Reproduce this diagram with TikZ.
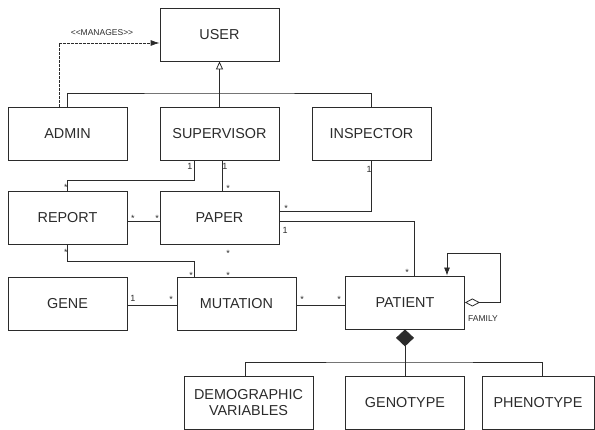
\documentclass[tikz,border=0pt]{standalone}
\usepackage{fontspec}
\setmainfont{Liberation Sans}
\usetikzlibrary{arrows.meta}
\definecolor{ink}{HTML}{2B2B2B}
\begin{document}
\begin{tikzpicture}[x=1pt,y=-1pt,
  cls/.style={draw=ink,line width=0.8pt,minimum width=119pt,minimum height=53pt,inner sep=1pt,font=\fontsize{14.4}{16.5}\selectfont,text=ink,align=center},
  conn/.style={draw=ink,line width=0.8pt},
  mult/.style={font=\fontsize{9}{10}\selectfont,text=ink,inner sep=0pt},
  lbl/.style={font=\fontsize{8.5}{10}\selectfont,text=ink,inner sep=0pt}]
\useasboundingbox (0,0) rectangle (595,430);
% classes
\node[cls] (user) at (219.5,34.5) {USER};
\node[cls] (admin) at (67.5,134) {ADMIN};
\node[cls] (sup) at (219.5,134) {SUPERVISOR};
\node[cls] (insp) at (371.5,134) {INSPECTOR};
\node[cls] (report) at (67.5,218) {REPORT};
\node[cls] (paper) at (219.5,218) {PAPER};
\node[cls] (gene) at (67.5,304) {GENE};
\node[cls] (mut) at (236.5,304) {MUTATION};
\node[cls] (pat) at (405,302.5) {PATIENT};
\node[cls,minimum width=129pt] (demo) at (248.5,402.5) {DEMOGRAPHIC\\VARIABLES};
\node[cls] (geno) at (405,402.5) {GENOTYPE};
\node[cls,minimum width=112pt] (pheno) at (538,402.5) {PHENOTYPE};
% generalization
\coordinate (gbar) at (219.5,93);
\draw[conn] (admin.north) |- (gbar) -| (insp.north);
\draw[conn,-{Triangle[open,length=8pt,width=7pt]}] (sup.north) -- (user.south);
% manages
\draw[conn,dashed,dash pattern=on 3pt off 1pt,-{Latex[length=9pt,width=6pt]}] ([xshift=-8.5pt]admin.north) |- ([yshift=-8.5pt]user.west);
\node[lbl] (manages) at (102,33) {<{}<MANAGES>{}>};
% associations
\draw[conn] ([xshift=-25.5pt]sup.south) -- ++(0,20) -| (report.north);
\draw[conn] ([xshift=2.5pt]sup.south) -- ([xshift=2.5pt]paper.north);
\draw[conn] (insp.south) |- ([yshift=7pt]paper.east);
\draw[conn] ([yshift=-3pt]paper.east) -| ([xshift=9pt]pat.north);
\draw[conn] ([yshift=-3pt]report.east) -- ([yshift=-3pt]paper.west);
\draw[conn] ([xshift=2.5pt]paper.south) -- (paper.south -| mut.north) ;
\draw[conn] (report.south) -- ++(0,17) -| ([xshift=-42.5pt]mut.north);
\draw[conn] ([yshift=-1pt]gene.east) -- ([yshift=-1pt]mut.west);
\draw[conn] ([yshift=-1pt]mut.east) -- ([yshift=-1pt]mut.east -| pat.west);
% self association
\draw[conn,{Diamond[open,length=15pt,width=8pt]}-{Latex[length=8pt,width=6pt]}] (pat.east) -- ++(35,0) -- ++(0,-49.5) -| ([xshift=42pt]pat.north);
\node[lbl,anchor=west] (fam) at (468,319) {FAMILY};
% composition
\draw[conn,{Diamond[length=17pt,width=18pt]}-] (pat.south) -- (geno.north);
\coordinate (cbar) at (405,362);
\draw[conn] ([xshift=-3.5pt]demo.north) |- (cbar) -| ([xshift=4pt]pheno.north);
% multiplicities
\node[mult] (m1) at (190,166) {1};
\node[mult] (m2) at (66,187) {*};
\node[mult] (m3) at (225,166) {1};
\node[mult] (m4) at (228,188) {*};
\node[mult] (m5) at (369,169) {1};
\node[mult] (m6) at (286,208) {*};
\node[mult] (m7) at (285,230) {1};
\node[mult] (m8) at (407,272) {*};
\node[mult] (m9) at (133,218) {*};
\node[mult] (m10) at (157,218) {*};
\node[mult] (m11) at (66,252) {*};
\node[mult] (m12) at (191,275) {*};
\node[mult] (m13) at (228,253) {*};
\node[mult] (m14) at (228,275) {*};
\node[mult] (m15) at (133,298) {1};
\node[mult] (m16) at (171,299) {*};
\node[mult] (m17) at (302,299) {*};
\node[mult] (m18) at (339,299) {*};
\end{tikzpicture}
\end{document}
